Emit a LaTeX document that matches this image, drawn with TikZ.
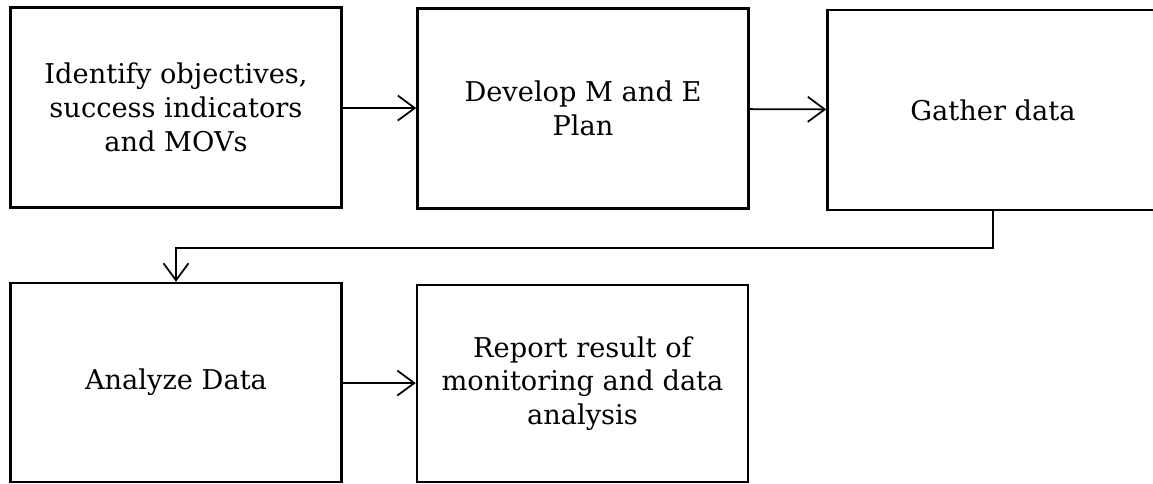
\documentclass[tikz,border=0pt]{standalone}
\usepackage{fontspec}
\setmainfont{DejaVu Serif}
\usetikzlibrary{arrows.meta}
\tikzset{>={Straight Barb[length=3.4mm,width=5mm]}}
\tikzset{
	% process box
	procbox/.style={draw=black,line width=1.4pt,minimum width=6.62cm,minimum height=4cm,
		align=center,inner sep=0pt,font=\fontsize{15.5}{19.2}\selectfont},
	% connector
	flow/.style={->,line width=1pt},
}
\begin{document}
\begin{tikzpicture}
\useasboundingbox (0,0) rectangle (23.06,-9.66);
\clip (0,0) rectangle (23.06,-9.66);
% top row
\node[procbox] (identify) at (3.52,-2.15) {Identify objectives,\\success indicators\\and MOVs};
\node[procbox] (develop) at (11.66,-2.17) {Develop M and E\\Plan};
\node[procbox] (gather) at (19.86,-2.2) {Gather data};
% bottom row
\node[procbox,minimum height=3.98cm] (analyze) at (3.52,-7.65) {Analyze Data};
\node[procbox,minimum height=3.94cm] (report) at (11.65,-7.67) {Report result of\\monitoring and data\\analysis};
% the flow
\draw[flow] (identify) -- (develop);
\draw[flow] (develop) -- (gather);
\draw[flow] (gather.south) -- ++(0,-0.74) -| (analyze.north);
\draw[flow] (analyze) -- (report);
\end{tikzpicture}
\end{document}
